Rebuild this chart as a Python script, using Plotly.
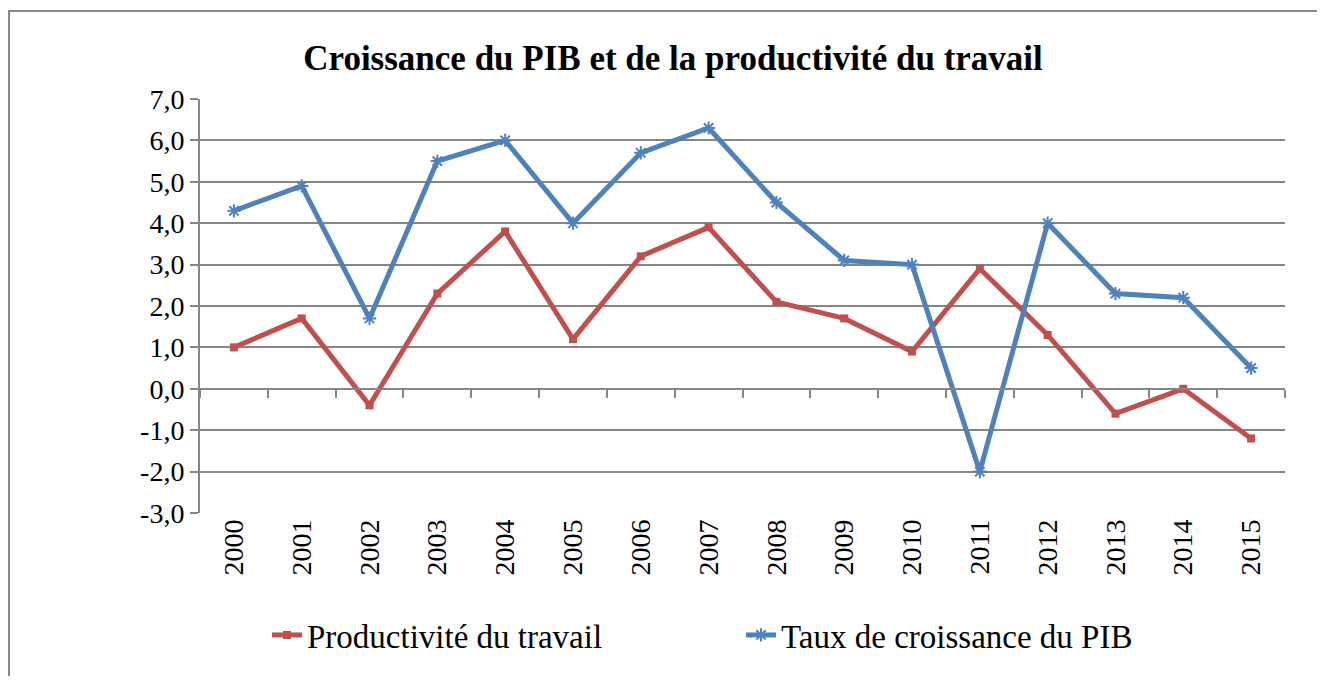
import plotly.graph_objects as go

years = [str(y) for y in range(2000, 2016)]
productivite = [1.0, 1.7, -0.4, 2.3, 3.8, 1.2, 3.2, 3.9, 2.1, 1.7, 0.9, 2.9, 1.3, -0.6, 0.0, -1.2]
pib = [4.3, 4.9, 1.7, 5.5, 6.0, 4.0, 5.7, 6.3, 4.5, 3.1, 3.0, -2.0, 4.0, 2.3, 2.2, 0.5]
y_ticks = [7, 6, 5, 4, 3, 2, 1, 0, -1, -2, -3]
y_ticktext = [f"{v:.1f}".replace(".", ",") for v in y_ticks]

RED = "#C0504D"
BLUE = "#4F81BD"
GRID = "#868686"
FONT = "Liberation Serif"

fig = go.Figure()
fig.add_trace(go.Scatter(
    x=years, y=productivite, name="Productivité du travail",
    mode="lines+markers",
    line=dict(color=RED, width=5),
    marker=dict(symbol="square", size=8, color=RED),
))
fig.add_trace(go.Scatter(
    x=years, y=pib, name="Taux de croissance du PIB",
    mode="lines+markers",
    line=dict(color=BLUE, width=5),
    marker=dict(symbol="asterisk-open", size=11, color=BLUE, line=dict(color=BLUE, width=2)),
))
# invisible trace to carry the secondary (zero-crossing) category axis
fig.add_trace(go.Scatter(x=years, y=[None] * len(years), xaxis="x2", showlegend=False,
                         hoverinfo="skip", mode="lines"))

ymin, ymax = -3, 7
zero_pos = (0 - ymin) / (ymax - ymin)

# the page body has an 8px margin; figure is sized/offset to compensate
W, H, OFF = 1317, 668, 8
L, T, R, B = 192, 91, 40, 163
PW = W - L - R          # plot width in px
PH = H - T - B          # plot height in px
px_x = lambda p: (p - OFF - L) / PW          # page x -> paper x
px_y = lambda p: (H - B - (p - OFF)) / PH    # page y -> paper y

fig.update_layout(
    width=W, height=H,
    margin=dict(l=L, r=R, t=T, b=B),
    paper_bgcolor="white", plot_bgcolor="white",
    font=dict(family=FONT, color="black", size=28),
    title=dict(text="<b>Croissance du PIB et de la productivité du travail</b>",
               font=dict(family=FONT, size=35, color="black"),
               x=px_x(673), xref="paper", xanchor="center",
               y=1 - (58 - OFF) / H, yref="container", yanchor="middle"),
    xaxis=dict(type="category", categoryarray=years, range=[-0.5, 15.5],
               showline=False, showgrid=False, ticks="", tickangle=-90,
               tickfont=dict(family=FONT, size=28), zeroline=False, automargin=False),
    xaxis2=dict(type="category", categoryarray=years, range=[-0.5, 15.5],
                overlaying="x", anchor="free", position=zero_pos,
                showline=True, linecolor=GRID, linewidth=2,
                ticks="outside", tickson="boundaries", ticklen=8, tickwidth=2, tickcolor=GRID,
                showticklabels=False, showgrid=False, zeroline=False),
    yaxis=dict(range=[ymin, ymax], tickvals=y_ticks, ticktext=y_ticktext,
               showgrid=True, gridcolor=GRID, gridwidth=2,
               showline=True, linecolor=GRID, linewidth=2,
               ticks="outside", ticklen=8, tickwidth=2, tickcolor=GRID,
               zeroline=False, tickfont=dict(family=FONT, size=28), automargin=False),
    legend=dict(orientation="h", x=px_x(267), xanchor="left",
                y=px_y(635), yanchor="middle",
                font=dict(family=FONT, size=33), entrywidth=429, entrywidthmode="pixels",
                itemwidth=30, bgcolor="rgba(0,0,0,0)"),
    showlegend=True,
)

# outer chart frame (only left and top edges are visible in the reference crop)
frame = dict(color="#8a8a8a", width=2)
fig.add_shape(type="line", xref="paper", yref="paper",
              x0=px_x(9), x1=px_x(9), y0=px_y(11), y1=px_y(800), line=frame, layer="below")
fig.add_shape(type="line", xref="paper", yref="paper",
              x0=px_x(8), x1=px_x(1400), y0=px_y(11), y1=px_y(11), line=frame, layer="below")

fig.write_html("out.html")
